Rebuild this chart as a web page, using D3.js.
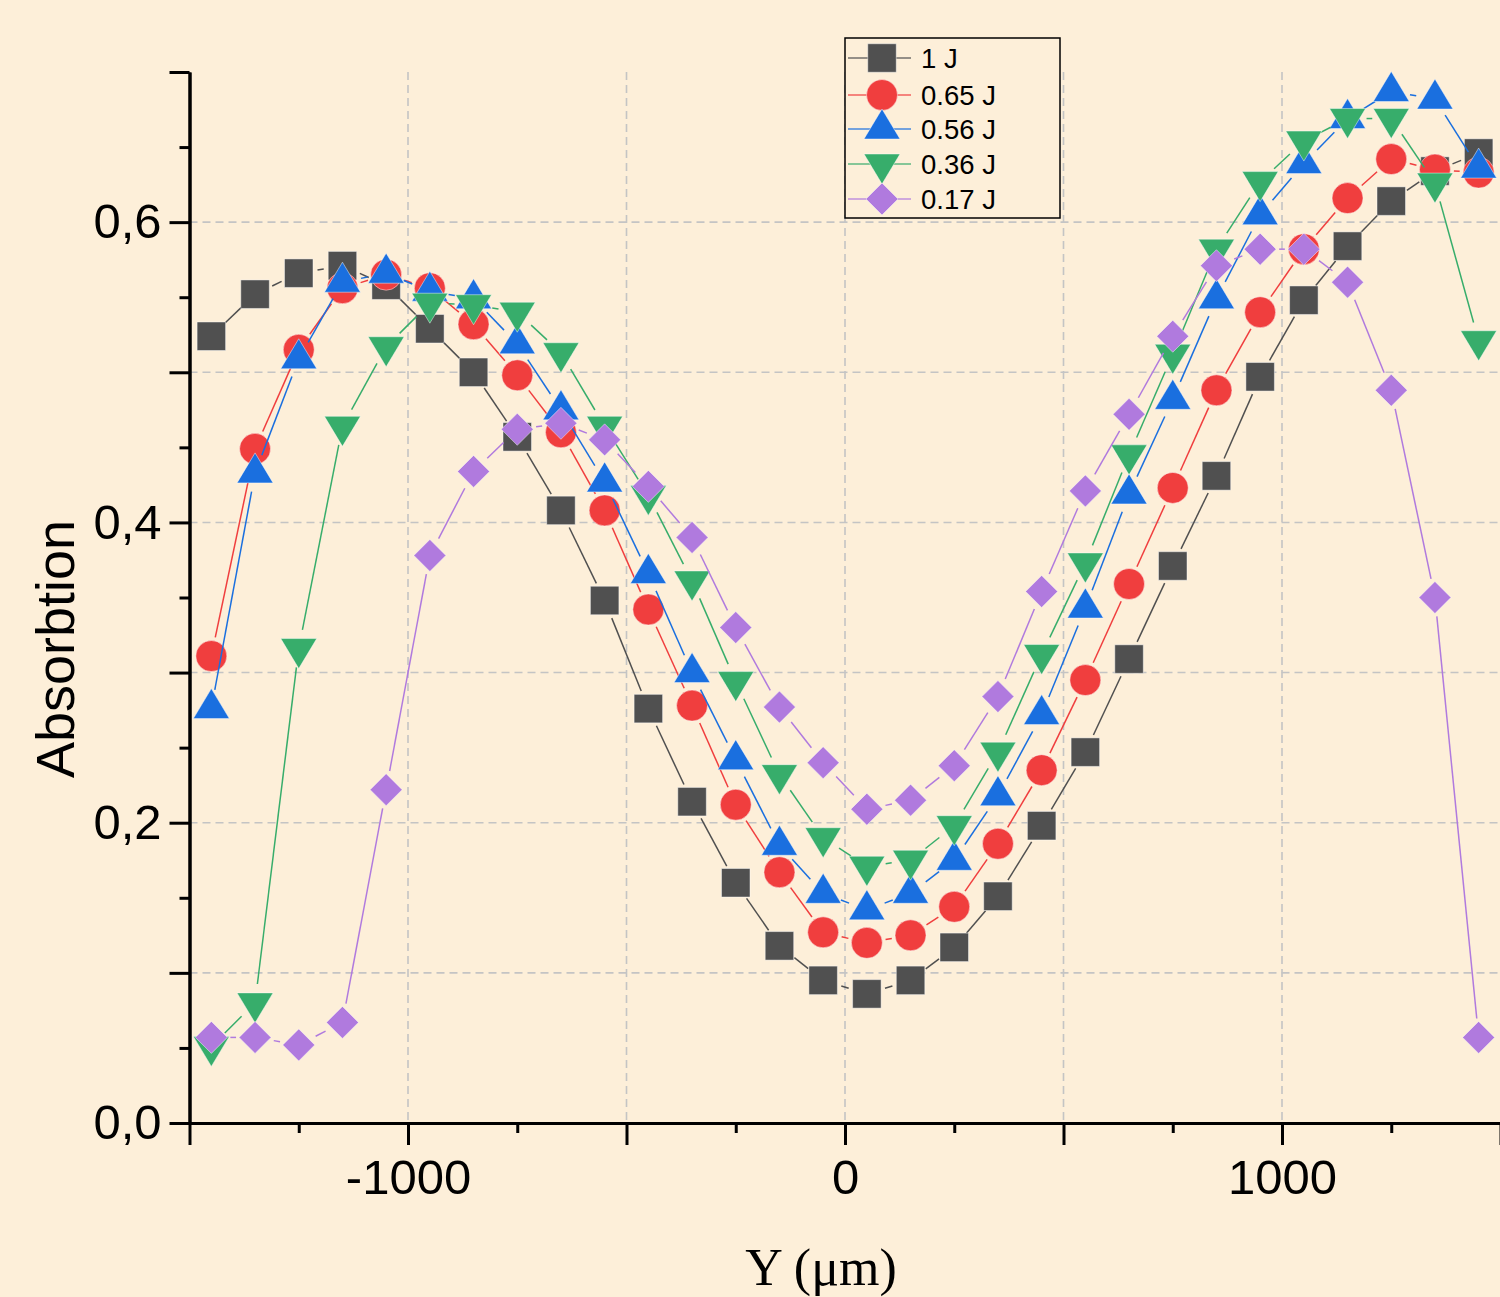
<!DOCTYPE html>
<html>
<head>
<meta charset="utf-8">
<script src="https://cdn.jsdelivr.net/npm/d3@7/dist/d3.min.js"></script>
<style>
  html, body { margin: 0; padding: 0; background: #fdefd9; }
  svg { display: block; }
</style>
</head>
<body>
<svg id="chart" width="1500" height="1297"></svg>
<script>
// Scan positions along Y (µm)
const positions = [-1450, -1350, -1250, -1150, -1050, -950, -850, -750, -650, -550,
                   -450, -350, -250, -150, -50, 50, 150, 250, 350, 450,
                   550, 650, 750, 850, 950, 1050, 1150, 1250, 1350, 1450];

// Absorption profiles for each pulse energy
const abs1J   = [0.524, 0.552, 0.566, 0.571, 0.558, 0.529, 0.500, 0.457, 0.408, 0.348,
                 0.276, 0.214, 0.160, 0.118, 0.095, 0.086, 0.095, 0.117, 0.151, 0.198,
                 0.247, 0.309, 0.371, 0.431, 0.497, 0.548, 0.584, 0.614, 0.634, 0.646];
const abs065J = [0.311, 0.449, 0.515, 0.556, 0.565, 0.556, 0.532, 0.498, 0.460, 0.408,
                 0.342, 0.278, 0.212, 0.167, 0.127, 0.120, 0.125, 0.144, 0.186, 0.235,
                 0.295, 0.359, 0.423, 0.488, 0.540, 0.582, 0.616, 0.642, 0.635, 0.633];
const abs056J = [0.276, 0.433, 0.509, 0.560, 0.566, 0.554, 0.549, 0.519, 0.475, 0.427,
                 0.366, 0.300, 0.242, 0.185, 0.153, 0.142, 0.153, 0.175, 0.218, 0.272,
                 0.343, 0.419, 0.482, 0.549, 0.605, 0.639, 0.669, 0.687, 0.682, 0.636];
const abs036J = [0.051, 0.080, 0.316, 0.464, 0.517, 0.546, 0.545, 0.540, 0.513, 0.464,
                 0.418, 0.361, 0.294, 0.232, 0.190, 0.171, 0.175, 0.198, 0.247, 0.312,
                 0.373, 0.445, 0.512, 0.582, 0.627, 0.654, 0.669, 0.669, 0.626, 0.521];
const abs017J = [0.057, 0.057, 0.052, 0.067, 0.222, 0.378, 0.434, 0.462, 0.466, 0.455,
                 0.424, 0.390, 0.330, 0.277, 0.240, 0.209, 0.215, 0.238, 0.284, 0.354,
                 0.421, 0.472, 0.524, 0.571, 0.582, 0.582, 0.560, 0.488, 0.350, 0.057];

const seriesNames  = ["1 J", "0.65 J", "0.56 J", "0.36 J", "0.17 J"];
const seriesValues = [abs1J, abs065J, abs056J, abs036J, abs017J];
const seriesColors = ["#505050", "#f03e3e", "#1a6fdf", "#37ad6b", "#b07ade"];
const seriesShapes = ["square", "circle", "triangleUp", "triangleDown", "diamond"];

// Axis ticks
const xMajorTicks = [-1500, -1000, -500, 0, 500, 1000, 1500];
const xMinorTicks = [-1250, -750, -250, 250, 750, 1250];
const xLabelTicks = [-1000, 0, 1000];
const xTickLabels = ["-1000", "0", "1000"];
const yMajorTicks = [0, 0.1, 0.2, 0.3, 0.4, 0.5, 0.6, 0.7];
const yMinorTicks = [0.05, 0.15, 0.25, 0.35, 0.45, 0.55, 0.65];
const yLabelTicks = [0, 0.2, 0.4, 0.6];
const yTickLabels = ["0,0", "0,2", "0,4", "0,6"];
const xGridTicks = [-1000, -500, 0, 500, 1000];
const yGridTicks = [0.1, 0.2, 0.3, 0.4, 0.5, 0.6];

const svg = d3.select("#chart");
const W = 1500, H = 1297;
svg.append("rect").attr("width", W).attr("height", H).attr("fill", "#fdefd9");

const plotLeft = 189.5, plotRight = 1500.5, plotTop = 72, plotBottom = 1123;
const x = d3.scaleLinear().domain([-1500, 1500]).range([plotLeft, plotRight]);
const y = d3.scaleLinear().domain([0, 0.7]).range([plotBottom, plotTop]);

const FONT = "'Liberation Sans', Arial, sans-serif";

// Dashed grid
const grid = svg.append("g").attr("stroke", "#c4c4c4").attr("stroke-width", 1.6)
  .attr("stroke-dasharray", "8,5").attr("fill", "none");
grid.selectAll("line.gx").data(xGridTicks).join("line").attr("class", "gx")
  .attr("x1", d => x(d)).attr("x2", d => x(d)).attr("y1", plotTop).attr("y2", plotBottom);
grid.selectAll("line.gy").data(yGridTicks).join("line").attr("class", "gy")
  .attr("x1", plotLeft).attr("x2", plotRight).attr("y1", d => y(d)).attr("y2", d => y(d));

// Axes
function styleAxis(g) {
  g.selectAll("path.domain").attr("stroke", "#000").attr("stroke-width", 3);
  g.selectAll(".tick line").attr("stroke", "#000").attr("stroke-width", 3);
  g.selectAll(".tick text").attr("fill", "#000").attr("font-family", FONT).attr("font-size", 49);
}

const yAxisMinor = svg.append("g").attr("transform", `translate(${plotLeft},0)`)
  .call(d3.axisLeft(y).tickValues(yMinorTicks).tickSize(10).tickSizeOuter(0).tickFormat(""));
styleAxis(yAxisMinor);
const yAxis = svg.append("g").attr("transform", `translate(${plotLeft},0)`)
  .call(d3.axisLeft(y).tickValues(yMajorTicks).tickSize(20).tickSizeOuter(0).tickPadding(8)
    .tickFormat(d => {
      const i = yLabelTicks.findIndex(v => Math.abs(v - d) < 1e-9);
      return i >= 0 ? yTickLabels[i] : "";
    }));
styleAxis(yAxis);

const xAxisMinor = svg.append("g").attr("transform", `translate(0,${plotBottom})`)
  .call(d3.axisBottom(x).tickValues(xMinorTicks).tickSize(10).tickSizeOuter(0).tickFormat(""));
styleAxis(xAxisMinor);
const xAxis = svg.append("g").attr("transform", `translate(0,${plotBottom})`)
  .call(d3.axisBottom(x).tickValues(xMajorTicks).tickSize(22).tickSizeOuter(0).tickPadding(14)
    .tickFormat(d => {
      const i = xLabelTicks.indexOf(d);
      return i >= 0 ? xTickLabels[i] : "";
    }));
styleAxis(xAxis);

// Axis titles
svg.append("text")
  .attr("transform", "translate(74,649) rotate(-90)")
  .attr("text-anchor", "middle")
  .attr("font-family", FONT).attr("font-size", 54).attr("fill", "#000")
  .text("Absorbtion");
svg.append("text")
  .attr("x", 821).attr("y", 1285)
  .attr("text-anchor", "middle")
  .attr("font-family", "'Liberation Serif', 'Times New Roman', serif")
  .attr("font-size", 52).attr("fill", "#000")
  .text("Y (μm)");

// Marker shapes, centred on the data point
function markerPath(shape) {
  switch (shape) {
    case "square": return "M-14.25,-14.25H14.25V14.25H-14.25Z";
    case "circle": return d3.symbol(d3.symbolCircle, Math.PI * 15.5 * 15.5)();
    case "triangleUp": return "M0,-20L18,10L-18,10Z";
    case "triangleDown": return "M0,20L18,-10L-18,-10Z";
    case "diamond": return "M0,-16L16,0L0,16L-16,0Z";
  }
}

// Connecting lines stop short of each marker
const GAP = 19;
function gappedSegments(pts) {
  const segs = [];
  for (let i = 0; i < pts.length - 1; i++) {
    const [x1, y1] = pts[i], [x2, y2] = pts[i + 1];
    const dx = x2 - x1, dy = y2 - y1, len = Math.hypot(dx, dy);
    if (len <= 2 * GAP + 1) continue;
    const ux = dx / len, uy = dy / len;
    segs.push([x1 + ux * GAP, y1 + uy * GAP, x2 - ux * GAP, y2 - uy * GAP]);
  }
  return segs;
}

const plot = svg.append("g");
seriesValues.forEach((vals, s) => {
  const pts = vals.map((v, i) => [x(positions[i]), y(v)]);
  const g = plot.append("g");
  g.selectAll("line").data(gappedSegments(pts)).join("line")
    .attr("x1", d => d[0]).attr("y1", d => d[1]).attr("x2", d => d[2]).attr("y2", d => d[3])
    .attr("stroke", seriesColors[s]).attr("stroke-width", 1.5);
  g.selectAll("path").data(pts).join("path")
    .attr("d", markerPath(seriesShapes[s]))
    .attr("transform", d => `translate(${d[0]},${d[1]})`)
    .attr("fill", seriesColors[s])
    .attr("stroke", "rgba(255,255,255,0.45)").attr("stroke-width", 1);
});

// Legend
const legend = svg.append("g");
legend.append("rect").attr("x", 845).attr("y", 38).attr("width", 215).attr("height", 180)
  .attr("fill", "#fdefd9").attr("stroke", "#000").attr("stroke-width", 1.5);
const rowY = [58, 95, 129, 164, 199];
seriesNames.forEach((name, s) => {
  const ry = rowY[s];
  legend.append("line").attr("x1", 848).attr("x2", 911).attr("y1", ry).attr("y2", ry)
    .attr("stroke", seriesColors[s]).attr("stroke-width", 1.5).attr("opacity", 0.8);
  legend.append("path").attr("d", markerPath(seriesShapes[s]))
    .attr("transform", `translate(882,${ry})`)
    .attr("fill", seriesColors[s])
    .attr("stroke", "rgba(255,255,255,0.45)").attr("stroke-width", 1);
  legend.append("text").attr("x", 921).attr("y", ry).attr("dy", "0.36em")
    .attr("font-family", FONT).attr("font-size", 27.5).attr("fill", "#000")
    .text(name);
});
</script>
</body>
</html>
